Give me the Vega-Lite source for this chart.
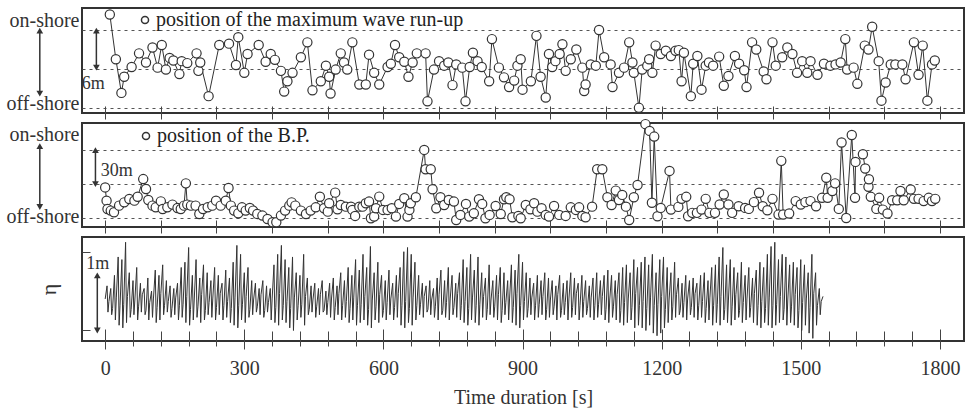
{
"$schema": "https://vega.github.io/schema/vega-lite/v6.json",
"background": "white",
"padding": {"left": 5, "top": 6, "right": 3, "bottom": 3},
"bounds": "flush",
"spacing": 10,
"config": {
 "view": {"stroke": "#333", "strokeWidth": 2},
 "font": "Liberation Serif",
 "axis": {"labelFont": "Liberation Serif", "titleFont": "Liberation Serif", "labelColor": "#333", "titleColor": "#333", "tickColor": "#444", "titleFontWeight": "normal"}
},
"resolve": {"scale": {"shape": "independent"}, "legend": {"shape": "independent"}},
"datasets": {
 "runup": [
  {"t":10,"v":14.4},{"t":23,"v":7.5},{"t":35,"v":2.3},{"t":41,"v":4.8},{"t":57,"v":6.3},{"t":73,"v":8.4},{"t":88,"v":7.0},{"t":102,"v":9.3},{"t":113,"v":6.2},{"t":122,"v":9.7},{"t":131,"v":5.9},{"t":139,"v":7.7},{"t":147,"v":7.3},{"t":160,"v":5.2},{"t":165,"v":7.2},{"t":177,"v":6.9},{"t":197,"v":8.4},{"t":201,"v":5.7},{"t":205,"v":7.0},{"t":223,"v":1.8},{"t":246,"v":9.7},{"t":267,"v":9.9},{"t":282,"v":6.6},{"t":287,"v":10.9},{"t":300,"v":5.4},{"t":307,"v":8.3},{"t":331,"v":9.7},{"t":346,"v":7.1},{"t":357,"v":8.3},{"t":366,"v":7.4},{"t":379,"v":5.7},{"t":386,"v":2.5},{"t":393,"v":4.1},{"t":404,"v":5.4},{"t":422,"v":7.8},{"t":436,"v":10.1},{"t":447,"v":2.7},
  {"t":465,"v":4.1},{"t":476,"v":6.5},{"t":483,"v":4.8},{"t":486,"v":2.2},{"t":497,"v":5.9},{"t":508,"v":8.4},{"t":515,"v":7.0},{"t":522,"v":5.9},{"t":533,"v":10.1},{"t":548,"v":3.6},{"t":562,"v":3.6},{"t":569,"v":8.2},{"t":580,"v":5.4},{"t":591,"v":3.6},{"t":609,"v":6.3},{"t":616,"v":6.8},{"t":625,"v":9.7},{"t":634,"v":7.8},{"t":645,"v":7.1},{"t":654,"v":4.8},{"t":663,"v":7.0},{"t":672,"v":8.4},{"t":691,"v":8.4},{"t":695,"v":1.0},{"t":709,"v":5.9},{"t":720,"v":7.2},{"t":731,"v":6.5},{"t":740,"v":7.0},{"t":749,"v":3.5},{"t":757,"v":6.7},{"t":770,"v":6.2},{"t":777,"v":1.0},{"t":786,"v":6.3},{"t":793,"v":8.5},{"t":803,"v":7.2},{"t":812,"v":6.3},{"t":828,"v":4.1},{"t":834,"v":10.6},{"t":849,"v":6.2},{"t":860,"v":4.7},{"t":871,"v":3.2},{"t":882,"v":4.2},{"t":889,"v":6.5},{"t":896,"v":7.5},{"t":900,"v":2.8},{"t":918,"v":4.1},{"t":930,"v":11.1},{"t":939,"v":4.8},{"t":950,"v":1.6},{"t":957,"v":8.3},{"t":964,"v":6.3},{"t":971,"v":7.2},{"t":980,"v":8.3},{"t":986,"v":9.8},{"t":993,"v":5.7},{"t":1004,"v":7.5},{"t":1016,"v":9.0},{"t":1029,"v":6.2},{"t":1033,"v":2.6},{"t":1036,"v":3.6},{"t":1047,"v":6.7},{"t":1058,"v":6.5},{"t":1065,"v":12.0},{"t":1076,"v":7.8},{"t":1090,"v":6.7},{"t":1094,"v":3.2},{"t":1108,"v":5.4},{"t":1119,"v":6.2},{"t":1130,"v":10.1},{"t":1137,"v":7.0},{"t":1140,"v":5.4},{"t":1151,"v":0.0},{"t":1158,"v":5.9},{"t":1169,"v":6.5},
  {"t":1173,"v":7.5},{"t":1180,"v":5.4},{"t":1187,"v":9.6},{"t":1198,"v":8.3},{"t":1209,"v":8.8},{"t":1220,"v":8.0},{"t":1230,"v":8.8},{"t":1237,"v":8.9},{"t":1243,"v":4.1},{"t":1248,"v":8.5},{"t":1263,"v":1.8},{"t":1268,"v":6.8},{"t":1277,"v":8.0},{"t":1286,"v":2.8},{"t":1295,"v":6.5},{"t":1302,"v":7.0},{"t":1311,"v":6.5},{"t":1324,"v":7.9},{"t":1334,"v":3.4},{"t":1344,"v":4.9},{"t":1358,"v":8.0},{"t":1367,"v":6.8},{"t":1378,"v":5.8},{"t":1383,"v":3.2},{"t":1395,"v":10.1},{"t":1404,"v":9.0},{"t":1420,"v":5.6},{"t":1426,"v":4.4},{"t":1439,"v":10.1},{"t":1446,"v":6.5},{"t":1460,"v":7.8},{"t":1471,"v":9.3},{"t":1482,"v":8.3},{"t":1492,"v":5.4},{"t":1503,"v":7.2},{"t":1514,"v":5.4},{"t":1521,"v":7.2},{"t":1536,"v":5.1},{"t":1550,"v":6.8},{"t":1564,"v":6.5},{"t":1575,"v":6.7},{"t":1586,"v":7.0},{"t":1596,"v":10.6},{"t":1600,"v":5.9},{"t":1614,"v":6.2},{"t":1622,"v":3.7},{"t":1638,"v":9.6},{"t":1646,"v":9.0},{"t":1654,"v":12.5},{"t":1668,"v":7.2},{"t":1674,"v":1.1},{"t":1683,"v":3.9},{"t":1694,"v":6.7},{"t":1704,"v":6.7},{"t":1719,"v":6.7},{"t":1726,"v":4.4},{"t":1744,"v":10.1},{"t":1754,"v":5.1},{"t":1763,"v":9.6},{"t":1773,"v":1.1},{"t":1783,"v":6.7},{"t":1789,"v":7.3}
 ],
 "bp": [
  {"t":0,"v":27},{"t":3,"v":15.3},{"t":5,"v":7.9},{"t":12,"v":6.5},{"t":19,"v":5.0},{"t":30,"v":10.9},{"t":41,"v":13.8},{"t":52,"v":16.8},{"t":63,"v":15.3},{"t":70,"v":18.8},{"t":82,"v":34.4},{"t":88,"v":25.6},{"t":93,"v":15.9},{"t":102,"v":10.9},{"t":109,"v":9.4},{"t":120,"v":14.7},{"t":124,"v":7.9},{"t":134,"v":9.4},{"t":145,"v":11.8},{"t":156,"v":8.8},{"t":163,"v":7.9},{"t":170,"v":10.9},{"t":174,"v":30.6},{"t":177,"v":11.8},{"t":185,"v":10.9},{"t":195,"v":10.9},{"t":203,"v":3.5},{"t":211,"v":7.9},{"t":221,"v":9.4},{"t":231,"v":10.9},{"t":239,"v":15.3},{"t":249,"v":10.9},{"t":260,"v":15.3},{"t":266,"v":26.5},{"t":271,"v":10.9},{"t":278,"v":6.5},{"t":287,"v":4.1},{"t":295,"v":9.4},{"t":303,"v":6.5},{"t":312,"v":8.8},{"t":319,"v":6.5},{"t":328,"v":3.5},{"t":339,"v":2.1},{"t":350,"v":-0.9},{"t":361,"v":-3.8},{"t":369,"v":-3.8},{"t":379,"v":2.1},{"t":388,"v":6.5},{"t":397,"v":10.9},{"t":402,"v":13.8},{"t":410,"v":10.9},{"t":422,"v":6.5},{"t":433,"v":3.5},{"t":443,"v":6.5},{"t":454,"v":9.4},{"t":463,"v":18.8},
  {"t":472,"v":8.6},{"t":480,"v":5.6},{"t":483,"v":13},{"t":496,"v":22.4},{"t":501,"v":7.7},{"t":508,"v":11.5},{"t":519,"v":10},{"t":530,"v":10},{"t":533,"v":7.1},{"t":539,"v":1.8},{"t":548,"v":10},{"t":555,"v":10},{"t":562,"v":13},{"t":569,"v":14.5},{"t":573,"v":-0.3},{"t":580,"v":1.2},{"t":584,"v":8.6},{"t":591,"v":18.9},{"t":599,"v":7.1},{"t":609,"v":7.1},{"t":618,"v":8.6},{"t":627,"v":1.2},{"t":634,"v":12.4},{"t":645,"v":17.4},{"t":652,"v":1.2},{"t":656,"v":7.1},{"t":659,"v":13},{"t":670,"v":18.3},{"t":688,"v":60.2},{"t":691,"v":43.1},{"t":702,"v":43.1},{"t":706,"v":25.4},{"t":714,"v":8.6},{"t":723,"v":18.3},{"t":731,"v":11.5},{"t":741,"v":15.9},{"t":752,"v":14.5},{"t":757,"v":-1.8},{"t":766,"v":2.7},{"t":778,"v":12.4},{"t":785,"v":1.2},{"t":795,"v":4.1},{"t":806,"v":16.5},{"t":813,"v":12.4},{"t":820,"v":-0.3},{"t":829,"v":2.7},{"t":842,"v":10.6},{"t":853,"v":3.5},{"t":860,"v":16.5},{"t":865,"v":18.3},{"t":872,"v":16.5},{"t":878,"v":0.6},{"t":891,"v":1.8},{"t":896,"v":-0.3},{"t":907,"v":11.5},{"t":917,"v":7.7},{"t":925,"v":13},{"t":932,"v":5.6},{"t":941,"v":8.6},{"t":950,"v":2.7},{"t":957,"v":1.2},{"t":968,"v":10.6},{"t":979,"v":2.7},{"t":993,"v":1.8},{"t":1004,"v":9.4},{"t":1015,"v":7.1},{"t":1022,"v":9.4},{"t":1029,"v":1.8},{"t":1036,"v":0.6},{"t":1050,"v":10},{"t":1061,"v":43.1},{"t":1072,"v":43.1},{"t":1083,"v":18.3},{"t":1092,"v":11.5},{"t":1101,"v":24.2},{"t":1108,"v":15.9},{"t":1115,"v":20.4},{"t":1123,"v":10},{"t":1130,"v":-1.8},{"t":1140,"v":18.3},{"t":1148,"v":29.2},
  {"t":1165,"v":83},{"t":1174,"v":77},{"t":1179,"v":13.4},{"t":1184,"v":72},{"t":1191,"v":1.5},{"t":1198,"v":8.9},{"t":1217,"v":41.6},{"t":1220,"v":7.4},{"t":1236,"v":9.8},{"t":1243,"v":16.9},{"t":1253,"v":18.7},{"t":1257,"v":1.5},{"t":1266,"v":4.5},{"t":1276,"v":4.5},{"t":1286,"v":7.4},{"t":1295,"v":16.9},{"t":1303,"v":4.5},{"t":1315,"v":4.5},{"t":1325,"v":11.9},{"t":1334,"v":20.8},{"t":1344,"v":11.9},{"t":1352,"v":4.5},{"t":1366,"v":10.4},{"t":1380,"v":8.9},{"t":1388,"v":8},{"t":1399,"v":14},{"t":1410,"v":22.3},{"t":1418,"v":10.4},{"t":1428,"v":6.8},{"t":1439,"v":16.9},{"t":1452,"v":3},{"t":1458,"v":50.5},{"t":1462,"v":3},{"t":1475,"v":3.9},{"t":1489,"v":14.9},{"t":1500,"v":11.9},{"t":1510,"v":14},{"t":1521,"v":14.9},{"t":1533,"v":10.4},{"t":1546,"v":17.8},{"t":1555,"v":35.6},{"t":1558,"v":17.8},{"t":1568,"v":23.8},{"t":1574,"v":30.6},{"t":1582,"v":8},{"t":1588,"v":66.8},{"t":1598,"v":0},{"t":1610,"v":73.4},{"t":1617,"v":17.8},{"t":1618,"v":49.6},{"t":1634,"v":56.4},{"t":1639,"v":43.7},{"t":1646,"v":27.6},{"t":1647,"v":34.2},{"t":1651,"v":18.7},{"t":1663,"v":8},{"t":1669,"v":17.8},{"t":1677,"v":7.4},{"t":1687,"v":3.9},{"t":1697,"v":15.7},{"t":1708,"v":15.7},{"t":1715,"v":23.8},{"t":1722,"v":15.7},{"t":1737,"v":25.2},{"t":1744,"v":16.9},{"t":1754,"v":16.9},{"t":1765,"v":14.9},{"t":1776,"v":17.8},{"t":1783,"v":14.9},{"t":1790,"v":16.9}
 ],
 "wave": [
  {"t":0,"e":10},{"t":4,"e":35},{"t":6,"e":-15},{"t":8,"e":5},{"t":12,"e":30},{"t":14,"e":-20},{"t":16,"e":-8},{"t":20,"e":55},{"t":22,"e":-30},{"t":24,"e":12},{"t":28,"e":90},{"t":30,"e":-40},{"t":32,"e":-3},{"t":36,"e":85},{"t":38,"e":-45},
  {"t":40,"e":0},{"t":44,"e":118},{"t":46,"e":-35},{"t":48,"e":15},{"t":52,"e":60},{"t":54,"e":-25},{"t":56,"e":-10},{"t":60,"e":45},{"t":62,"e":-20},{"t":64,"e":8},{"t":68,"e":70},{"t":70,"e":-30},{"t":72,"e":-5},{"t":76,"e":40},{"t":78,"e":-15},
  {"t":80,"e":18},{"t":84,"e":30},{"t":86,"e":-20},{"t":88,"e":-12},{"t":92,"e":50},{"t":94,"e":-30},{"t":96,"e":3},{"t":100,"e":25},{"t":102,"e":-25},{"t":104,"e":10},{"t":108,"e":65},{"t":110,"e":-35},{"t":112,"e":-6},{"t":116,"e":55},{"t":118,"e":-30},
  {"t":120,"e":20},{"t":124,"e":75},{"t":126,"e":-20},{"t":128,"e":-2},{"t":132,"e":45},{"t":134,"e":-15},{"t":136,"e":5},{"t":140,"e":35},{"t":142,"e":-25},{"t":144,"e":-8},{"t":148,"e":30},{"t":150,"e":-20},{"t":152,"e":12},{"t":156,"e":40},{"t":158,"e":-30},
  {"t":160,"e":-3},{"t":164,"e":70},{"t":166,"e":-25},{"t":168,"e":0},{"t":172,"e":80},{"t":174,"e":-35},{"t":176,"e":15},{"t":180,"e":108},{"t":182,"e":-40},{"t":184,"e":-10},{"t":188,"e":55},{"t":190,"e":-30},{"t":192,"e":8},{"t":196,"e":85},{"t":198,"e":-25},
  {"t":200,"e":-5},{"t":204,"e":50},{"t":206,"e":-35},{"t":208,"e":18},{"t":212,"e":75},{"t":214,"e":-30},{"t":216,"e":-12},{"t":220,"e":60},{"t":222,"e":-20},{"t":224,"e":3},{"t":228,"e":45},{"t":230,"e":-25},{"t":232,"e":10},{"t":236,"e":70},{"t":238,"e":-30},
  {"t":240,"e":-6},{"t":244,"e":55},{"t":246,"e":-20},{"t":248,"e":20},{"t":252,"e":40},{"t":254,"e":-30},{"t":256,"e":-2},{"t":260,"e":65},{"t":262,"e":-25},{"t":264,"e":5},{"t":268,"e":50},{"t":270,"e":-35},{"t":272,"e":-8},{"t":276,"e":80},{"t":278,"e":-40},
  {"t":280,"e":12},{"t":284,"e":112},{"t":286,"e":-45},{"t":288,"e":-3},{"t":292,"e":95},{"t":294,"e":-30},{"t":296,"e":0},{"t":300,"e":60},{"t":302,"e":-35},{"t":304,"e":15},{"t":308,"e":70},{"t":310,"e":-25},{"t":312,"e":-10},{"t":316,"e":45},{"t":318,"e":-20},
  {"t":320,"e":8},{"t":324,"e":40},{"t":326,"e":-15},{"t":328,"e":-5},{"t":332,"e":30},{"t":334,"e":-20},{"t":336,"e":18},{"t":340,"e":45},{"t":342,"e":-25},{"t":344,"e":-12},{"t":348,"e":35},{"t":350,"e":-15},{"t":352,"e":3},{"t":356,"e":30},{"t":358,"e":-30},
  {"t":360,"e":10},{"t":364,"e":75},{"t":366,"e":-35},{"t":368,"e":-6},{"t":372,"e":95},{"t":374,"e":-40},{"t":376,"e":20},{"t":380,"e":112},{"t":382,"e":-30},{"t":384,"e":-2},{"t":388,"e":85},{"t":390,"e":-35},{"t":392,"e":5},{"t":396,"e":70},{"t":398,"e":-45},
  {"t":400,"e":-8},{"t":404,"e":90},{"t":406,"e":-50},{"t":408,"e":12},{"t":412,"e":60},{"t":414,"e":-30},{"t":416,"e":-3},{"t":420,"e":55},{"t":422,"e":-25},{"t":424,"e":0},{"t":428,"e":95},{"t":430,"e":-40},{"t":432,"e":15},{"t":436,"e":50},{"t":438,"e":-20},
  {"t":440,"e":-10},{"t":444,"e":35},{"t":446,"e":-15},{"t":448,"e":8},{"t":452,"e":40},{"t":454,"e":-25},{"t":456,"e":-5},{"t":460,"e":30},{"t":462,"e":-20},{"t":464,"e":18},{"t":468,"e":45},{"t":470,"e":-15},{"t":472,"e":-12},{"t":476,"e":25},{"t":478,"e":-20},
  {"t":480,"e":3},{"t":484,"e":40},{"t":486,"e":-25},{"t":488,"e":10},{"t":492,"e":50},{"t":494,"e":-30},{"t":496,"e":-6},{"t":500,"e":35},{"t":502,"e":-20},{"t":504,"e":20},{"t":508,"e":60},{"t":510,"e":-30},{"t":512,"e":-2},{"t":516,"e":45},{"t":518,"e":-25},
  {"t":520,"e":5},{"t":524,"e":70},{"t":526,"e":-35},{"t":528,"e":-8},{"t":532,"e":55},{"t":534,"e":-30},{"t":536,"e":12},{"t":540,"e":85},{"t":542,"e":-40},{"t":544,"e":-3},{"t":548,"e":65},{"t":550,"e":-35},{"t":552,"e":0},{"t":556,"e":95},{"t":558,"e":-30},
  {"t":560,"e":15},{"t":564,"e":70},{"t":566,"e":-40},{"t":568,"e":-10},{"t":572,"e":110},{"t":574,"e":-45},{"t":576,"e":8},{"t":580,"e":60},{"t":582,"e":-30},{"t":584,"e":-5},{"t":588,"e":80},{"t":590,"e":-35},{"t":592,"e":18},{"t":596,"e":55},{"t":598,"e":-25},
  {"t":600,"e":-12},{"t":604,"e":45},{"t":606,"e":-30},{"t":608,"e":3},{"t":612,"e":65},{"t":614,"e":-20},{"t":616,"e":10},{"t":620,"e":40},{"t":622,"e":-30},{"t":624,"e":-6},{"t":628,"e":55},{"t":630,"e":-25},{"t":632,"e":20},{"t":636,"e":70},{"t":638,"e":-40},
  {"t":640,"e":-2},{"t":644,"e":100},{"t":646,"e":-45},{"t":648,"e":5},{"t":652,"e":108},{"t":654,"e":-35},{"t":656,"e":-8},{"t":660,"e":95},{"t":662,"e":-40},{"t":664,"e":12},{"t":668,"e":80},{"t":670,"e":-30},{"t":672,"e":-3},{"t":676,"e":55},{"t":678,"e":-20},
  {"t":680,"e":0},{"t":684,"e":40},{"t":686,"e":-25},{"t":688,"e":15},{"t":692,"e":35},{"t":694,"e":-15},{"t":696,"e":-10},{"t":700,"e":45},{"t":702,"e":-20},{"t":704,"e":8},{"t":708,"e":30},{"t":710,"e":-25},{"t":712,"e":-5},{"t":716,"e":50},{"t":718,"e":-30},
  {"t":720,"e":18},{"t":724,"e":65},{"t":726,"e":-20},{"t":728,"e":-12},{"t":732,"e":45},{"t":734,"e":-25},{"t":736,"e":3},{"t":740,"e":70},{"t":742,"e":-30},{"t":744,"e":10},{"t":748,"e":55},{"t":750,"e":-20},{"t":752,"e":-6},{"t":756,"e":40},{"t":758,"e":-25},
  {"t":760,"e":20},{"t":764,"e":60},{"t":766,"e":-30},{"t":768,"e":-2},{"t":772,"e":85},{"t":774,"e":-35},{"t":776,"e":5},{"t":780,"e":70},{"t":782,"e":-40},{"t":784,"e":-8},{"t":788,"e":95},{"t":790,"e":-30},{"t":792,"e":12},{"t":796,"e":65},{"t":798,"e":-35},
  {"t":800,"e":-3},{"t":804,"e":90},{"t":806,"e":-40},{"t":808,"e":0},{"t":812,"e":60},{"t":814,"e":-25},{"t":816,"e":15},{"t":820,"e":50},{"t":822,"e":-30},{"t":824,"e":-10},{"t":828,"e":75},{"t":830,"e":-20},{"t":832,"e":8},{"t":836,"e":45},{"t":838,"e":-25},
  {"t":840,"e":-5},{"t":844,"e":55},{"t":846,"e":-30},{"t":848,"e":18},{"t":852,"e":70},{"t":854,"e":-35},{"t":856,"e":-12},{"t":860,"e":60},{"t":862,"e":-20},{"t":864,"e":3},{"t":868,"e":45},{"t":870,"e":-30},{"t":872,"e":10},{"t":876,"e":75},{"t":878,"e":-35},
  {"t":880,"e":-6},{"t":884,"e":65},{"t":886,"e":-40},{"t":888,"e":20},{"t":892,"e":95},{"t":894,"e":-45},{"t":896,"e":-2},{"t":900,"e":80},{"t":902,"e":-30},{"t":904,"e":5},{"t":908,"e":60},{"t":910,"e":-25},{"t":912,"e":-8},{"t":916,"e":50},{"t":918,"e":-20},
  {"t":920,"e":12},{"t":924,"e":40},{"t":926,"e":-30},{"t":928,"e":-3},{"t":932,"e":55},{"t":934,"e":-25},{"t":936,"e":0},{"t":940,"e":45},{"t":942,"e":-20},{"t":944,"e":15},{"t":948,"e":60},{"t":950,"e":-30},{"t":952,"e":-10},{"t":956,"e":50},{"t":958,"e":-25},
  {"t":960,"e":8},{"t":964,"e":45},{"t":966,"e":-20},{"t":968,"e":-5},{"t":972,"e":35},{"t":974,"e":-30},{"t":976,"e":18},{"t":980,"e":55},{"t":982,"e":-25},{"t":984,"e":-12},{"t":988,"e":40},{"t":990,"e":-20},{"t":992,"e":3},{"t":996,"e":45},{"t":998,"e":-30},
  {"t":1000,"e":10},{"t":1004,"e":60},{"t":1006,"e":-25},{"t":1008,"e":-6},{"t":1012,"e":50},{"t":1014,"e":-20},{"t":1016,"e":20},{"t":1020,"e":40},{"t":1022,"e":-30},{"t":1024,"e":-2},{"t":1028,"e":55},{"t":1030,"e":-25},{"t":1032,"e":5},{"t":1036,"e":45},{"t":1038,"e":-20},
  {"t":1040,"e":-8},{"t":1044,"e":35},{"t":1046,"e":-25},{"t":1048,"e":12},{"t":1052,"e":50},{"t":1054,"e":-30},{"t":1056,"e":-3},{"t":1060,"e":60},{"t":1062,"e":-25},{"t":1064,"e":0},{"t":1068,"e":45},{"t":1070,"e":-20},{"t":1072,"e":15},{"t":1076,"e":55},{"t":1078,"e":-30},
  {"t":1080,"e":-10},{"t":1084,"e":65},{"t":1086,"e":-35},{"t":1088,"e":8},{"t":1092,"e":55},{"t":1094,"e":-25},{"t":1096,"e":-5},{"t":1100,"e":45},{"t":1102,"e":-30},{"t":1104,"e":18},{"t":1108,"e":60},{"t":1110,"e":-35},{"t":1112,"e":-12},{"t":1116,"e":70},{"t":1118,"e":-40},
  {"t":1120,"e":3},{"t":1124,"e":75},{"t":1126,"e":-35},{"t":1128,"e":10},{"t":1132,"e":60},{"t":1134,"e":-30},{"t":1136,"e":-6},{"t":1140,"e":85},{"t":1142,"e":-45},{"t":1144,"e":20},{"t":1148,"e":70},{"t":1150,"e":-40},{"t":1152,"e":-2},{"t":1156,"e":80},{"t":1158,"e":-45},
  {"t":1160,"e":5},{"t":1164,"e":90},{"t":1166,"e":-50},{"t":1168,"e":-8},{"t":1172,"e":75},{"t":1174,"e":-40},{"t":1176,"e":12},{"t":1180,"e":95},{"t":1182,"e":-55},{"t":1184,"e":-3},{"t":1188,"e":60},{"t":1190,"e":-60},{"t":1192,"e":0},{"t":1196,"e":85},{"t":1198,"e":-55},
  {"t":1200,"e":15},{"t":1204,"e":90},{"t":1206,"e":-45},{"t":1208,"e":-10},{"t":1212,"e":70},{"t":1214,"e":-35},{"t":1216,"e":8},{"t":1220,"e":60},{"t":1222,"e":-30},{"t":1224,"e":-5},{"t":1228,"e":80},{"t":1230,"e":-25},{"t":1232,"e":18},{"t":1236,"e":50},{"t":1238,"e":-20},
  {"t":1240,"e":-12},{"t":1244,"e":40},{"t":1246,"e":-25},{"t":1248,"e":3},{"t":1252,"e":55},{"t":1254,"e":-30},{"t":1256,"e":10},{"t":1260,"e":45},{"t":1262,"e":-20},{"t":1264,"e":-6},{"t":1268,"e":50},{"t":1270,"e":-25},{"t":1272,"e":20},{"t":1276,"e":40},{"t":1278,"e":-30},
  {"t":1280,"e":-2},{"t":1284,"e":55},{"t":1286,"e":-25},{"t":1288,"e":5},{"t":1292,"e":60},{"t":1294,"e":-35},{"t":1296,"e":-8},{"t":1300,"e":45},{"t":1302,"e":-30},{"t":1304,"e":12},{"t":1308,"e":70},{"t":1310,"e":-40},{"t":1312,"e":-3},{"t":1316,"e":75},{"t":1318,"e":-35},
  {"t":1320,"e":0},{"t":1324,"e":90},{"t":1326,"e":-40},{"t":1328,"e":15},{"t":1332,"e":108},{"t":1334,"e":-30},{"t":1336,"e":-10},{"t":1340,"e":75},{"t":1342,"e":-35},{"t":1344,"e":8},{"t":1348,"e":85},{"t":1350,"e":-40},{"t":1352,"e":-5},{"t":1356,"e":70},{"t":1358,"e":-30},
  {"t":1360,"e":18},{"t":1364,"e":60},{"t":1366,"e":-25},{"t":1368,"e":-12},{"t":1372,"e":80},{"t":1374,"e":-35},{"t":1376,"e":3},{"t":1380,"e":55},{"t":1382,"e":-30},{"t":1384,"e":10},{"t":1388,"e":70},{"t":1390,"e":-25},{"t":1392,"e":-6},{"t":1396,"e":50},{"t":1398,"e":-35},
  {"t":1400,"e":20},{"t":1404,"e":65},{"t":1406,"e":-40},{"t":1408,"e":-2},{"t":1412,"e":80},{"t":1414,"e":-45},{"t":1416,"e":5},{"t":1420,"e":70},{"t":1422,"e":-35},{"t":1424,"e":-8},{"t":1428,"e":95},{"t":1430,"e":-40},{"t":1432,"e":12},{"t":1436,"e":110},{"t":1438,"e":-45},
  {"t":1440,"e":-3},{"t":1444,"e":118},{"t":1446,"e":-40},{"t":1448,"e":0},{"t":1452,"e":85},{"t":1454,"e":-35},{"t":1456,"e":15},{"t":1460,"e":95},{"t":1462,"e":-30},{"t":1464,"e":-10},{"t":1468,"e":90},{"t":1470,"e":-40},{"t":1472,"e":8},{"t":1476,"e":75},{"t":1478,"e":-35},
  {"t":1480,"e":-5},{"t":1484,"e":80},{"t":1486,"e":-40},{"t":1488,"e":18},{"t":1492,"e":70},{"t":1494,"e":-45},{"t":1496,"e":-12},{"t":1500,"e":85},{"t":1502,"e":-50},{"t":1504,"e":3},{"t":1508,"e":75},{"t":1510,"e":-40},{"t":1512,"e":10},{"t":1516,"e":60},{"t":1518,"e":-55},
  {"t":1520,"e":-6},{"t":1524,"e":95},{"t":1526,"e":-65},{"t":1528,"e":20},{"t":1532,"e":60},{"t":1534,"e":-40},{"t":1536,"e":-2},{"t":1540,"e":30},{"t":1542,"e":-20},{"t":1544,"e":5},{"t":1548,"e":15}
 ],
 "arrows1": [{"t":-141,"v":2.2,"v2":11.9},{"t":-19,"v":6.2,"v2":11.9}],
 "labels1": [{"t":-26,"v":3.7,"label":"6m"}],
 "arrows2": [{"t":-141,"v":9.7,"v2":63.5},{"t":-21,"v":30,"v2":60}],
 "labels2": [{"t":25,"v":41.5,"label":"30m"}],
 "arrows3": [{"t":-17,"e":-50,"e2":55}],
 "labels3": [{"t":-16,"e":76,"label":"1m"}]
},
"vconcat": [
 {
  "width": 882, "height": 105,
  "layer": [
   {"data": {"name": "runup"}, "mark": {"type": "line", "color": "#333", "strokeWidth": 1},
    "encoding": {
     "x": {"field": "t", "type": "quantitative", "scale": {"domain": [-50, 1852], "nice": false, "zero": false},
       "axis": {"values": [0,60,120,180,240,300,360,420,480,540,600,660,720,780,840,900,960,1020,1080,1140,1200,1260,1320,1380,1440,1500,1560,1620,1680,1740,1800], "labels": false, "domain": false, "grid": false, "tickSize": 13, "offset": -7, "title": null}},
     "y": {"field": "v", "type": "quantitative", "scale": {"domain": [-0.8, 15.4], "nice": false, "zero": false},
       "axis": {"values": [0, 6, 12], "grid": true, "gridDash": [3, 4], "gridColor": "#555", "domain": false, "ticks": false,
        "labelExpr": "datum.value === 12 ? 'on-shore' : (datum.value === 0 ? 'off-shore' : '')",
        "labelFont": "Liberation Serif", "labelFontSize": 20, "labelPadding": 3, "labelBaseline": "alphabetic",
        "labelOffset": {"condition": {"test": "datum.value === 12", "value": -4}, "value": 2}, "title": null}}
    }},
   {"data": {"name": "runup"}, "mark": {"type": "point", "filled": true, "fill": "white", "stroke": "#333", "strokeWidth": 1.2, "size": 85, "opacity": 1},
    "encoding": {
     "x": {"field": "t", "type": "quantitative", "scale": {"domain": [-50, 1852], "nice": false, "zero": false}},
     "y": {"field": "v", "type": "quantitative", "scale": {"domain": [-0.8, 15.4], "nice": false, "zero": false}},
     "shape": {"datum": "position of the maximum wave run-up", "type": "nominal", "scale": {"range": ["circle"]},
       "legend": {"orient": "none", "legendX": 53, "legendY": 2, "title": null, "padding": 0, "labelFont": "Liberation Serif", "labelFontSize": 20, "labelColor": "#222", "labelLimit": 600, "symbolSize": 50, "labelOffset": 1,
        "encode": {"symbols": {"update": {"fill": {"value": "white"}, "stroke": {"value": "#333"}, "strokeWidth": {"value": 1.2}, "opacity": {"value": 1}}}}}}
    }},
   {"data": {"name": "arrows1"}, "mark": {"type": "rule", "color": "#333", "strokeWidth": 1.5},
    "encoding": {
     "x": {"field": "t", "type": "quantitative", "scale": {"domain": [-50, 1852], "nice": false, "zero": false}},
     "y": {"field": "v", "type": "quantitative", "scale": {"domain": [-0.8, 15.4], "nice": false, "zero": false}},
     "y2": {"field": "v2"}
    }},
   {"data": {"name": "arrows1"}, "mark": {"type": "point", "shape": "triangle-up", "filled": true, "color": "#333", "size": 45, "opacity": 1},
    "encoding": {
     "x": {"field": "t", "type": "quantitative", "scale": {"domain": [-50, 1852], "nice": false, "zero": false}},
     "y": {"field": "v2", "type": "quantitative", "scale": {"domain": [-0.8, 15.4], "nice": false, "zero": false}}
    }},
   {"data": {"name": "arrows1"}, "mark": {"type": "point", "shape": "triangle-down", "filled": true, "color": "#333", "size": 45, "opacity": 1},
    "encoding": {
     "x": {"field": "t", "type": "quantitative", "scale": {"domain": [-50, 1852], "nice": false, "zero": false}},
     "y": {"field": "v", "type": "quantitative", "scale": {"domain": [-0.8, 15.4], "nice": false, "zero": false}}
    }},
   {"data": {"name": "labels1"}, "mark": {"type": "text", "font": "Liberation Serif", "fontSize": 18, "color": "#333"},
    "encoding": {
     "x": {"field": "t", "type": "quantitative", "scale": {"domain": [-50, 1852], "nice": false, "zero": false}},
     "y": {"field": "v", "type": "quantitative", "scale": {"domain": [-0.8, 15.4], "nice": false, "zero": false}},
     "text": {"field": "label"}
    }}
  ]
 },
 {
  "width": 882, "height": 104,
  "layer": [
   {"data": {"name": "bp"}, "mark": {"type": "line", "color": "#333", "strokeWidth": 1},
    "encoding": {
     "x": {"field": "t", "type": "quantitative", "scale": {"domain": [-50, 1852], "nice": false, "zero": false},
       "axis": {"values": [0,60,120,180,240,300,360,420,480,540,600,660,720,780,840,900,960,1020,1080,1140,1200,1260,1320,1380,1440,1500,1560,1620,1680,1740,1800], "labels": false, "domain": false, "grid": false, "tickSize": 13, "offset": -7, "title": null}},
     "y": {"field": "v", "type": "quantitative", "scale": {"domain": [-8, 84], "nice": false, "zero": false},
       "axis": {"values": [0, 30, 60], "grid": true, "gridDash": [3, 4], "gridColor": "#555", "domain": false, "ticks": false,
        "labelExpr": "datum.value === 60 ? 'on-shore' : (datum.value === 0 ? 'off-shore' : '')",
        "labelFont": "Liberation Serif", "labelFontSize": 20, "labelPadding": 3, "labelBaseline": "alphabetic",
        "labelOffset": {"condition": {"test": "datum.value === 60", "value": -10}, "value": 5}, "title": null}}
    }},
   {"data": {"name": "bp"}, "mark": {"type": "point", "filled": true, "fill": "white", "stroke": "#333", "strokeWidth": 1.2, "size": 85, "opacity": 1},
    "encoding": {
     "x": {"field": "t", "type": "quantitative", "scale": {"domain": [-50, 1852], "nice": false, "zero": false}},
     "y": {"field": "v", "type": "quantitative", "scale": {"domain": [-8, 84], "nice": false, "zero": false}},
     "shape": {"datum": "position of the B.P.", "type": "nominal", "scale": {"range": ["circle"]},
       "legend": {"orient": "none", "legendX": 54, "legendY": 3, "title": null, "padding": 0, "labelFont": "Liberation Serif", "labelFontSize": 20, "labelColor": "#222", "labelLimit": 600, "symbolSize": 50, "labelOffset": 1,
        "encode": {"symbols": {"update": {"fill": {"value": "white"}, "stroke": {"value": "#333"}, "strokeWidth": {"value": 1.2}, "opacity": {"value": 1}}}}}}
    }},
   {"data": {"name": "arrows2"}, "mark": {"type": "rule", "color": "#333", "strokeWidth": 1.5},
    "encoding": {
     "x": {"field": "t", "type": "quantitative", "scale": {"domain": [-50, 1852], "nice": false, "zero": false}},
     "y": {"field": "v", "type": "quantitative", "scale": {"domain": [-8, 84], "nice": false, "zero": false}},
     "y2": {"field": "v2"}
    }},
   {"data": {"name": "arrows2"}, "mark": {"type": "point", "shape": "triangle-up", "filled": true, "color": "#333", "size": 45, "opacity": 1},
    "encoding": {
     "x": {"field": "t", "type": "quantitative", "scale": {"domain": [-50, 1852], "nice": false, "zero": false}},
     "y": {"field": "v2", "type": "quantitative", "scale": {"domain": [-8, 84], "nice": false, "zero": false}}
    }},
   {"data": {"name": "arrows2"}, "mark": {"type": "point", "shape": "triangle-down", "filled": true, "color": "#333", "size": 45, "opacity": 1},
    "encoding": {
     "x": {"field": "t", "type": "quantitative", "scale": {"domain": [-50, 1852], "nice": false, "zero": false}},
     "y": {"field": "v", "type": "quantitative", "scale": {"domain": [-8, 84], "nice": false, "zero": false}}
    }},
   {"data": {"name": "labels2"}, "mark": {"type": "text", "font": "Liberation Serif", "fontSize": 18, "color": "#333"},
    "encoding": {
     "x": {"field": "t", "type": "quantitative", "scale": {"domain": [-50, 1852], "nice": false, "zero": false}},
     "y": {"field": "v", "type": "quantitative", "scale": {"domain": [-8, 84], "nice": false, "zero": false}},
     "text": {"field": "label"}
    }}
  ]
 },
 {
  "width": 882, "height": 104,
  "resolve": {"axis": {"x": "independent"}},
  "layer": [
   {"data": {"name": "wave"}, "mark": {"type": "line", "color": "#333", "strokeWidth": 1},
    "encoding": {
     "x": {"field": "t", "type": "quantitative", "scale": {"domain": [-50, 1852], "nice": false, "zero": false},
       "axis": {"orient": "bottom", "values": [0,300,600,900,1200,1500,1800],
        "labels": true, "format": "d", "labelOverlap": false, "labelFlush": false,
        "labelFont": "Liberation Serif", "labelFontSize": 20, "labelPadding": 9, "domain": false, "grid": false, "tickSize": 20, "offset": -12,
        "title": "Time duration [s]", "titleFont": "Liberation Serif", "titleFontSize": 20, "titlePadding": 9}},
     "y": {"field": "e", "type": "quantitative", "scale": {"domain": [-70, 128], "nice": false, "zero": false},
       "axis": {"values": [-50, 0, 50, 100], "labels": false, "domain": false, "grid": false, "tickSize": 8, "offset": -8,
        "title": "η", "titleFont": "Liberation Serif", "titleFontSize": 22, "titlePadding": 21}}
    }},
   {"data": {"name": "arrows3"}, "mark": {"type": "rule", "color": "#333", "strokeWidth": 1.5},
    "encoding": {
     "x": {"field": "t", "type": "quantitative", "scale": {"domain": [-50, 1852], "nice": false, "zero": false},
       "axis": {"orient": "bottom", "values": [0,60,120,180,240,300,360,420,480,540,600,660,720,780,840,900,960,1020,1080,1140,1200,1260,1320,1380,1440,1500,1560,1620,1680,1740,1800], "labels": false, "domain": false, "grid": false, "tickSize": 15, "offset": -10, "title": null}},
     "y": {"field": "e", "type": "quantitative", "scale": {"domain": [-70, 128], "nice": false, "zero": false}},
     "y2": {"field": "e2"}
    }},
   {"data": {"name": "arrows3"}, "mark": {"type": "point", "shape": "triangle-up", "filled": true, "color": "#333", "size": 45, "opacity": 1},
    "encoding": {
     "x": {"field": "t", "type": "quantitative", "scale": {"domain": [-50, 1852], "nice": false, "zero": false}, "axis": null},
     "y": {"field": "e2", "type": "quantitative", "scale": {"domain": [-70, 128], "nice": false, "zero": false}}
    }},
   {"data": {"name": "arrows3"}, "mark": {"type": "point", "shape": "triangle-down", "filled": true, "color": "#333", "size": 45, "opacity": 1},
    "encoding": {
     "x": {"field": "t", "type": "quantitative", "scale": {"domain": [-50, 1852], "nice": false, "zero": false}, "axis": null},
     "y": {"field": "e", "type": "quantitative", "scale": {"domain": [-70, 128], "nice": false, "zero": false}}
    }},
   {"data": {"name": "labels3"}, "mark": {"type": "text", "font": "Liberation Serif", "fontSize": 18, "color": "#333"},
    "encoding": {
     "x": {"field": "t", "type": "quantitative", "scale": {"domain": [-50, 1852], "nice": false, "zero": false}, "axis": null},
     "y": {"field": "e", "type": "quantitative", "scale": {"domain": [-70, 128], "nice": false, "zero": false}},
     "text": {"field": "label"}
    }}
  ]
 }
]
}
